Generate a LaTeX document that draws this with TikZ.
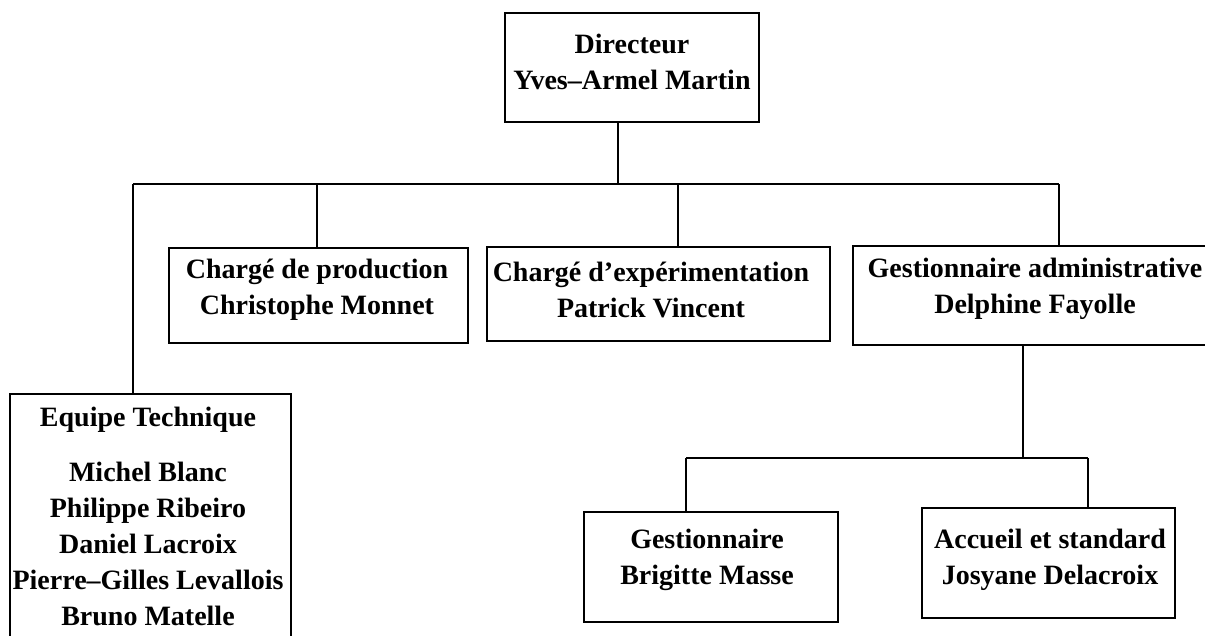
\documentclass[tikz,border=0pt]{standalone}
\usepackage{fontspec}
\setmainfont{Liberation Serif}

\tikzset{
  post/.style={draw, line width=1.6pt, inner sep=0pt},
  lbl/.style={font=\fontsize{28}{36}\selectfont\bfseries, align=center, inner sep=0pt},
  link/.style={line width=1.6pt},
}

\begin{document}
\begin{tikzpicture}[x=1pt,y=-1pt]
        \useasboundingbox (0,0) rectangle (1205,635);
        \clip (0,0) rectangle (1205,635);
        \node[post, minimum width=254, minimum height=109] (dir) at (632,67.5) {};
        \node[lbl] (dir-t) at (632,61.5) {Directeur\\Yves–Armel Martin};
        \node[post, minimum width=299, minimum height=95] (cp) at (318.5,295.5) {};
        \node[lbl] (cp-t) at (317,289.5) {Chargé de production\\Christophe Monnet};
        \node[post, minimum width=343, minimum height=94] (ce) at (658.5,294) {};
        \node[lbl] (ce-t) at (651,289.5) {Chargé d’expérimentation\\Patrick Vincent};
        \node[post, minimum width=364, minimum height=99] (ga) at (1035,295.5) {};
        \node[lbl] (ga-t) at (1035,289) {Gestionnaire administrative\\Delphine Fayolle};
        \node[post, minimum width=281, minimum height=266] (eq) at (150.5,527) {};
        \node[lbl, anchor=north] (eq-t) at (148,407) {Equipe Technique\\[19pt]Michel Blanc\\Philippe Ribeiro\\Daniel Lacroix\\Pierre–Gilles Levallois\\Bruno Matelle};
        \node[post, minimum width=254, minimum height=110] (gest) at (711,567) {};
        \node[lbl] (gest-t) at (707,559.5) {Gestionnaire\\Brigitte Masse};
        \node[post, minimum width=253, minimum height=110] (acc) at (1048.5,563) {};
        \node[lbl] (acc-t) at (1050,560) {Accueil et standard\\Josyane Delacroix};
        \coordinate (bus-l) at (133,184);
        \coordinate (bus-r) at (1059,184);
        \coordinate (t-dir) at (618,184);
        \coordinate (t-cp) at (317,184);
        \coordinate (t-ce) at (678,184);
        \coordinate (t-ga) at (1023,458);
        \coordinate (s-l) at (686,458);
        \coordinate (s-r) at (1088,458);
        \draw[link] (bus-l) -- (bus-r);
        \draw[link] (dir.south -| t-dir) -- (t-dir);
        \draw[link] (bus-l) -- (bus-l |- eq.north);
        \draw[link] (t-cp) -- (t-cp |- cp.north);
        \draw[link] (t-ce) -- (t-ce |- ce.north);
        \draw[link] (bus-r) -- (bus-r |- ga.north);
        \draw[link] (ga.south -| t-ga) -- (t-ga);
        \draw[link] (s-l) -- (s-r);
        \draw[link] (s-l) -- (s-l |- gest.north);
        \draw[link] (s-r) -- (s-r |- acc.north);
\end{tikzpicture}
\end{document}
